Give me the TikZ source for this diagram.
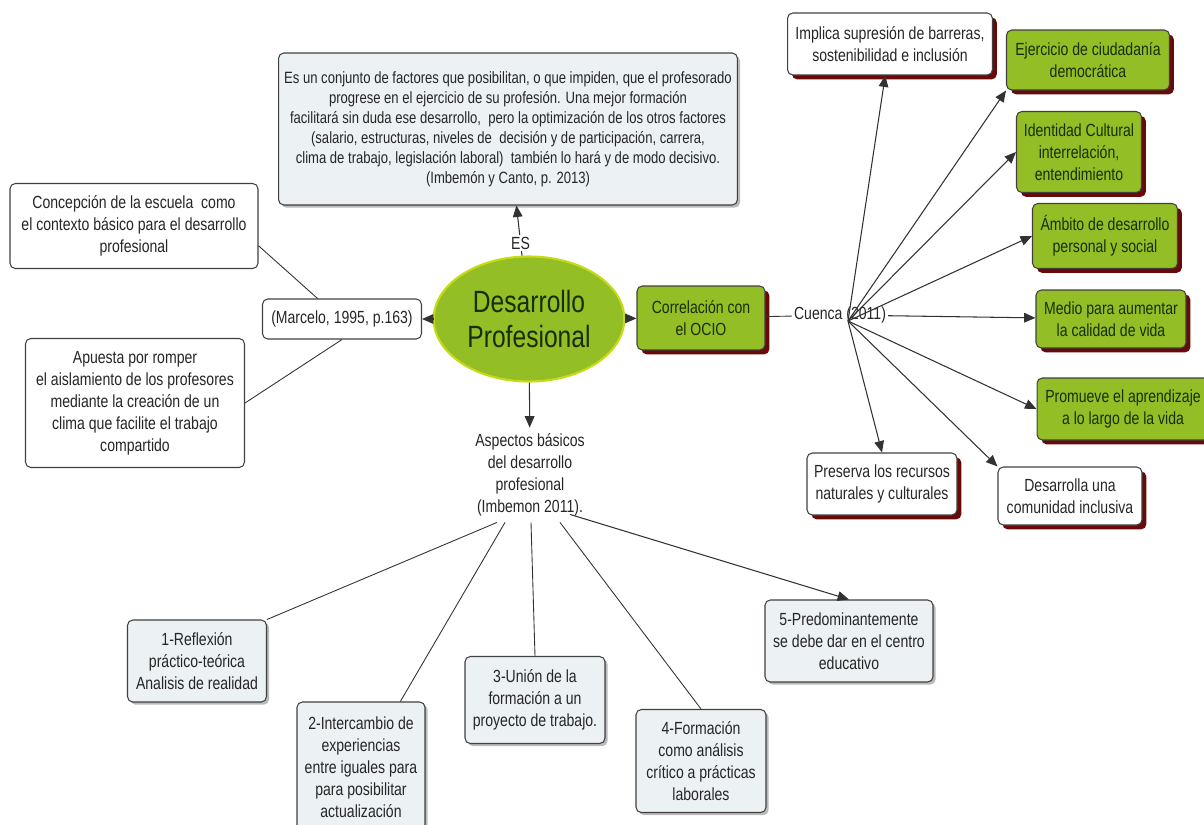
\documentclass[tikz,border=0pt]{standalone}
\usepackage{fontspec}
\setmainfont{Liberation Sans}[FakeStretch=0.8]
\usetikzlibrary{shapes.geometric,arrows.meta,shadows,calc}
\definecolor{hojaverde}{RGB}{148,190,38}
\definecolor{textoverde}{RGB}{25,45,5}
\definecolor{cajagris}{RGB}{236,241,244}
\definecolor{sombraroja}{RGB}{105,10,10}
\definecolor{gristrazo}{RGB}{50,50,50}

\begin{document}
\begin{tikzpicture}[x=0.02cm,y=-0.02cm]
        \tikzstyle{every node}=[font=\fontsize{10}{12.5}\selectfont,align=center,text=black!85]
        \tikzstyle{caja}=[draw=black!75,rounded corners=3pt,inner sep=2pt,line width=0.6pt]
        \tikzstyle{gris}=[caja,fill=cajagris,drop shadow={shadow xshift=1.5pt,shadow yshift=-1.5pt,fill=black!45,opacity=0.6}]
        \tikzstyle{blanca}=[caja,fill=white]
        \tikzstyle{roja}=[caja,fill=white,drop shadow={shadow xshift=2.5pt,shadow yshift=-2.5pt,fill=sombraroja,opacity=1}]
        \tikzstyle{verde}=[caja,fill=hojaverde,text=textoverde,drop shadow={shadow xshift=2.5pt,shadow yshift=-2.5pt,fill=sombraroja,opacity=1}]
        \tikzstyle{flecha}=[draw=gristrazo,line width=0.6pt,-{Triangle[length=6.5pt,width=5.5pt]}]
        \tikzstyle{enlace}=[draw=gristrazo,line width=0.5pt]
        \useasboundingbox (0,0) rectangle (1204,825);

        % centro
        \node[ellipse,fill=hojaverde,draw=hojaverde!55!yellow,line width=1.2pt,minimum width=3.16cm,minimum height=2.5cm,
              text=textoverde,font=\fontsize{17.5}{19.9}\selectfont] (dp) at (529,319) {Desarrollo\\Profesional};

        \node[gris,minimum width=9.18cm,minimum height=3.04cm,font=\fontsize{9.3}{11.4}\selectfont] (top) at (508,129)
            {Es un conjunto de factores que posibilitan, o que impiden, que el profesorado\\
             progrese en el ejercicio de su profesión. Una mejor formación\\
             facilitará sin duda ese desarrollo,\ \ pero la optimización de los otros factores\\
             (salario, estructuras, niveles de\ \ decisión y de participación, carrera,\\
             clima de trabajo, legislación laboral)\ \ también lo hará y de modo decisivo.\\
             (Imbemón y Canto, p. 2013)};

        % izquierda
        \node[blanca,minimum width=3.18cm,minimum height=0.8cm] (marcelo) at (342,319) {(Marcelo, 1995, p.163)};
        \node[blanca,minimum width=4.96cm,minimum height=1.7cm] (concep) at (134,226)
            {Concepción de la escuela\ \ como\\el contexto básico para el desarrollo\\profesional};
        \node[blanca,minimum width=4.38cm,minimum height=2.58cm] (apuesta) at (135,403)
            {Apuesta por romper\\el aislamiento de los profesores\\mediante la creación de un\\clima que facilite el trabajo\\compartido};

        % derecha
        \node[verde,minimum width=2.56cm,minimum height=1.28cm] (ocio) at (701,318) {Correlación con\\el OCIO};
        \node[inner sep=1pt] (cuenca) at (840,315) {Cuenca (2011)};
        \coordinate (hub) at (848,321);

        \node[roja,minimum width=4.1cm,minimum height=1.24cm] (implica) at (890,44) {Implica supresión de barreras,\\sostenibilidad e inclusión};
        \node[verde,minimum width=3.26cm,minimum height=1.2cm] (ejercicio) at (1088,60) {Ejercicio de ciudadanía\\democrática};
        \node[verde,minimum width=2.5cm,minimum height=1.62cm] (identidad) at (1079,152) {Identidad Cultural\\interrelación,\\entendimiento};
        \node[verde,minimum width=2.9cm,minimum height=1.3cm] (ambito) at (1105,236) {Ámbito de desarrollo\\personal y social};
        \node[verde,minimum width=3.0cm,minimum height=1.16cm] (medio) at (1111,319) {Medio para aumentar\\la calidad de vida};
        \node[verde,minimum width=3.44cm,minimum height=1.24cm] (promueve) at (1123,409) {Promueve el aprendizaje\\a lo largo de la vida};
        \node[roja,minimum width=3.0cm,minimum height=1.24cm] (preserva) at (882,484) {Preserva los recursos\\naturales y culturales};
        \node[roja,minimum width=2.88cm,minimum height=1.16cm] (desarrolla) at (1070,496) {Desarrolla una\\comunidad inclusiva};

        % abajo
        \node (aspectos) at (530,475) {Aspectos básicos\\del desarrollo\\profesional\\(Imbemon 2011).};
        \node[gris,minimum width=2.78cm,minimum height=1.64cm] (uno) at (197,661) {1-Reflexión\\práctico-teórica\\Analisis de realidad};
        \node[gris,minimum width=2.56cm,minimum height=2.6cm] (dos) at (361,767) {2-Intercambio de\\experiencias\\entre iguales para\\para posibilitar\\actualización};
        \node[gris,minimum width=2.8cm,minimum height=1.74cm] (tres) at (535,700) {3-Unión de la\\formación a un\\proyecto de trabajo.};
        \node[gris,minimum width=2.6cm,minimum height=2.06cm] (cuatro) at (701,761) {4-Formación\\como análisis\\crítico a prácticas\\laborales};
        \node[gris,minimum width=3.36cm,minimum height=1.64cm] (cinco) at (849,641) {5-Predominantemente\\se debe dar en el centro\\educativo};

        \draw[flecha] (dp) -- node[pos=0.25,fill=white,inner sep=1pt] {ES} (top);
        \draw[flecha] (dp) -- (marcelo);
        \draw[enlace] (concep.-9) -- (marcelo.140);
        \draw[enlace] (apuesta.east) -- (marcelo.south);
        \draw[flecha] (dp) -- (ocio);
        \draw[enlace] (ocio) -- (cuenca);
        \draw[flecha] (cuenca) -- (medio);
        \draw[flecha] (hub) -- (implica);
        \draw[flecha] (hub) -- (ejercicio.south west);
        \draw[flecha] (hub) -- (identidad.west);
        \draw[flecha] (hub) -- (ambito.west);
        \draw[flecha] (hub) -- (promueve.west);
        \draw[flecha] (hub) -- (preserva.north);
        \draw[flecha] (hub) -- (desarrolla.north west);
        \draw[flecha] (dp) -- (aspectos);
        \draw[enlace] ($(aspectos.south)+(-33,0)$) -- (uno.north east);
        \draw[enlace] ($(aspectos.south)+(-25,0)$) -- (dos.59);
        \draw[enlace] ($(aspectos.south)+(1,0)$) -- (tres.north);
        \draw[enlace] ($(aspectos.south)+(30,0)$) -- (cuatro.north);
        \draw[flecha] ($(aspectos.south)+(40,-8)$) -- (cinco.north);
\end{tikzpicture}
\end{document}
